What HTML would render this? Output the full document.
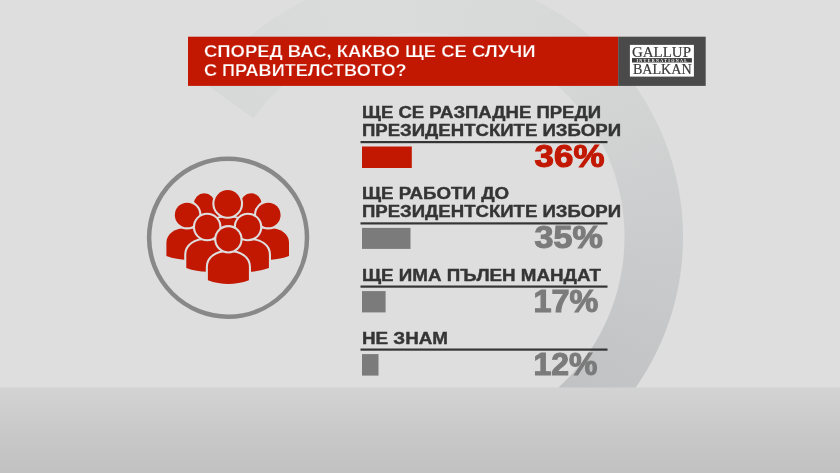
<!DOCTYPE html>
<html lang="bg">
<head>
<meta charset="utf-8">
<title>Според вас, какво ще се случи с правителството?</title>
<style>
html,body{margin:0;padding:0;background:#dedede;}
body{width:840px;height:473px;overflow:hidden;position:relative;font-family:"Liberation Sans",sans-serif;}
svg{position:absolute;left:0;top:0;display:block;}
#ringwrap{position:absolute;left:0;top:0;width:840px;height:388px;overflow:hidden;}
#ring{position:absolute;left:0;top:0;width:840px;height:473px;
background:conic-gradient(from 305.5deg at 420px 237px,#d7d8d8 0deg,#dadbdb 40deg,#d8d9d9 80deg,#d2d4d4 115deg,#cacccd 145deg,#c3c5c6 175deg,#bfc1c2 195deg,#bfc1c2 200deg,rgba(191,193,194,0) 200deg);
-webkit-mask:radial-gradient(circle at 420px 237px,transparent 204px,#000 205px,#000 262.5px,transparent 263.5px);
mask:radial-gradient(circle at 420px 237px,transparent 204px,#000 205px,#000 262.5px,transparent 263.5px);}
.hd{font-family:"Liberation Sans",sans-serif;font-weight:bold;font-size:16.4px;fill:#ffffff;stroke:#c21802;stroke-width:0.25px;}
.lb{font-family:"Liberation Sans",sans-serif;font-weight:bold;font-size:16px;fill:#353535;stroke:#353535;stroke-width:0.4px;}
.pc{font-family:"Liberation Sans",sans-serif;font-weight:bold;font-size:31.4px;stroke-width:1.1px;stroke-linejoin:miter;}
.lg{font-family:"Liberation Serif",serif;font-size:14.5px;fill:#3a3a3a;stroke:#3a3a3a;stroke-width:0.2px;}
</style>
</head>
<body>
<div id="ringwrap"><div id="ring"></div></div>
<svg width="840" height="473" viewBox="0 0 840 473">
  <defs>
    <linearGradient id="band" x1="0" y1="0" x2="0" y2="1">
      <stop offset="0" stop-color="#d3d3d3"/>
      <stop offset="0.5" stop-color="#c9c9c9"/>
      <stop offset="1" stop-color="#c1c1c1"/>
    </linearGradient>
  </defs>


  <!-- bottom band -->
  <rect x="0" y="387.5" width="840" height="86" fill="url(#band)"/>

  <!-- header -->
  <rect x="188" y="36.7" width="430.3" height="49.2" fill="#c21802"/>
  <rect x="618.2" y="36.7" width="87.5" height="49.2" fill="#4a4a4a"/>
  <text class="hd" x="204" y="57.3" textLength="331.5" lengthAdjust="spacingAndGlyphs">СПОРЕД ВАС, КАКВО ЩЕ СЕ СЛУЧИ</text>
  <text class="hd" x="204" y="76.1" textLength="202.5" lengthAdjust="spacingAndGlyphs">С ПРАВИТЕЛСТВОТО?</text>

  <!-- logo -->
  <rect x="629.9" y="44.9" width="64" height="31.7" fill="#ffffff"/>
  <text class="lg" x="632" y="56.6" textLength="59" lengthAdjust="spacingAndGlyphs">GALLUP</text>
  <rect x="632" y="58.1" width="59.9" height="4.4" fill="#3c3c3c"/>
  <text x="636.4" y="61.75" textLength="50.6" lengthAdjust="spacing" style="font-family:'Liberation Serif',serif;font-weight:bold;font-size:4.1px;fill:#fff">INTERNATIONAL</text>
  <text class="lg" x="632.9" y="74.2" textLength="58.8" lengthAdjust="spacingAndGlyphs" style="font-size:13.9px">BALKAN</text>

  <!-- row 1 -->
  <text class="lb" x="362" y="117.6" textLength="239" lengthAdjust="spacingAndGlyphs">ЩЕ СЕ РАЗПАДНЕ ПРЕДИ</text>
  <text class="lb" x="362" y="136.2" textLength="259" lengthAdjust="spacingAndGlyphs">ПРЕЗИДЕНТСКИТЕ ИЗБОРИ</text>
  <rect x="360.5" y="141" width="247" height="2.2" fill="#353535"/>
  <rect x="362" y="146.5" width="49.8" height="21.5" fill="#c21802"/>
  <text class="pc" x="534.6" y="167.1" textLength="69.8" lengthAdjust="spacingAndGlyphs" fill="#c21802" stroke="#c21802">36%</text>

  <!-- row 2 -->
  <text class="lb" x="362" y="198.8" textLength="147" lengthAdjust="spacingAndGlyphs">ЩЕ РАБОТИ ДО</text>
  <text class="lb" x="362" y="217.4" textLength="259" lengthAdjust="spacingAndGlyphs">ПРЕЗИДЕНТСКИТЕ ИЗБОРИ</text>
  <rect x="360.5" y="222.3" width="247" height="2.2" fill="#353535"/>
  <rect x="362" y="227.9" width="48.5" height="21" fill="#7b7b7b"/>
  <text class="pc" x="534.6" y="248.3" textLength="68.3" lengthAdjust="spacingAndGlyphs" fill="#7b7b7b" stroke="#7b7b7b">35%</text>

  <!-- row 3 -->
  <text class="lb" x="362" y="280.7" textLength="239" lengthAdjust="spacingAndGlyphs">ЩЕ ИМА ПЪЛЕН МАНДАТ</text>
  <rect x="360.5" y="285.5" width="247" height="2.2" fill="#353535"/>
  <rect x="362" y="291.1" width="23.6" height="21.3" fill="#7b7b7b"/>
  <text class="pc" x="533.6" y="311.9" textLength="64.8" lengthAdjust="spacingAndGlyphs" fill="#7b7b7b" stroke="#7b7b7b">17%</text>

  <!-- row 4 -->
  <text class="lb" x="362" y="343.7" textLength="86" lengthAdjust="spacingAndGlyphs">НЕ ЗНАМ</text>
  <rect x="360.5" y="348.5" width="247" height="2.2" fill="#353535"/>
  <rect x="362" y="354.1" width="16.5" height="21.5" fill="#7b7b7b"/>
  <text class="pc" x="533.6" y="375.1" textLength="63.8" lengthAdjust="spacingAndGlyphs" fill="#7b7b7b" stroke="#7b7b7b">12%</text>

  <!-- people icon -->
  <circle cx="228.05" cy="237.7" r="78.95" fill="none" stroke="#888888" stroke-width="4.5"/>
  <g id="people">
    <g fill="#c21802"><path transform="translate(5,0)" d="M191.80,230.00 V218.00 C191.80,210.80 196.80,206.00 204.30,206.00 C211.80,206.00 216.80,210.80 216.80,218.00 V230.00 Q204.30,237.60 191.80,230.00 Z"/><circle cx="204.30" cy="203.80" r="10.50"/></g>
    <g fill="#c21802"><path transform="translate(-5,0)" d="M238.60,230.00 V218.00 C238.60,210.80 243.60,206.00 251.10,206.00 C258.60,206.00 263.60,210.80 263.60,218.00 V230.00 Q251.10,237.60 238.60,230.00 Z"/><circle cx="251.10" cy="203.80" r="10.50"/></g>
    <g fill="#c21802" stroke="#dedede" stroke-width="4.2" paint-order="stroke" stroke-linejoin="round"><path d="M208.70,245.50 V229.30 C208.70,222.10 216.30,217.30 227.70,217.30 C239.10,217.30 246.70,222.10 246.70,229.30 V245.50 Q227.70,253.10 208.70,245.50 Z"/><circle cx="227.70" cy="203.40" r="13.30"/></g>
    <g fill="#c21802" stroke="#dedede" stroke-width="4.2" paint-order="stroke" stroke-linejoin="round"><path d="M166.40,256.10 V242.70 C166.40,233.82 174.68,227.90 187.10,227.90 C199.52,227.90 207.80,233.82 207.80,242.70 V256.10 Q187.10,263.70 166.40,256.10 Z"/><circle cx="187.10" cy="215.00" r="12.30"/></g>
    <g fill="#c21802" stroke="#dedede" stroke-width="4.2" paint-order="stroke" stroke-linejoin="round"><path d="M247.60,256.10 V242.70 C247.60,233.82 255.88,227.90 268.30,227.90 C280.72,227.90 289.00,233.82 289.00,242.70 V256.10 Q268.30,263.70 247.60,256.10 Z"/><circle cx="268.30" cy="215.00" r="12.30"/></g>
    <g fill="#c21802" stroke="#dedede" stroke-width="4.2" paint-order="stroke" stroke-linejoin="round"><path d="M186.30,268.00 V254.60 C186.30,245.72 194.66,239.80 207.20,239.80 C219.74,239.80 228.10,245.72 228.10,254.60 V268.00 Q207.20,275.60 186.30,268.00 Z"/><circle cx="207.20" cy="227.00" r="12.20"/></g>
    <g fill="#c21802" stroke="#dedede" stroke-width="4.2" paint-order="stroke" stroke-linejoin="round"><path d="M227.10,268.00 V254.60 C227.10,245.72 235.46,239.80 248.00,239.80 C260.54,239.80 268.90,245.72 268.90,254.60 V268.00 Q248.00,275.60 227.10,268.00 Z"/><circle cx="248.00" cy="227.00" r="12.20"/></g>
    <g fill="#c21802" stroke="#dedede" stroke-width="4.2" paint-order="stroke" stroke-linejoin="round"><path d="M207.90,280.30 V266.90 C207.90,258.02 216.10,252.10 228.40,252.10 C240.70,252.10 248.90,258.02 248.90,266.90 V280.30 Q228.40,287.90 207.90,280.30 Z"/><circle cx="228.40" cy="239.30" r="12.10"/></g>
  </g>
</svg>
</body>
</html>
